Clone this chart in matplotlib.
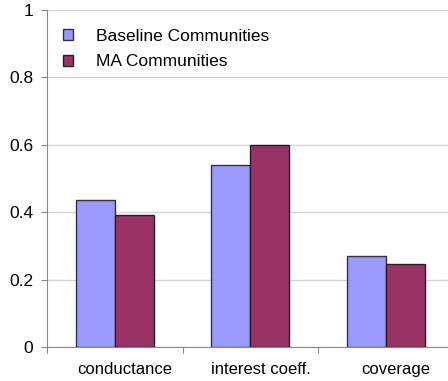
import matplotlib.pyplot as plt
import numpy as np
from matplotlib.patches import Patch

plt.rcParams['font.family'] = ['Liberation Sans', 'DejaVu Sans']

categories = ['conductance', 'interest coeff.', 'coverage']
baseline = [0.436, 0.540, 0.270]
ma = [0.392, 0.600, 0.246]
series_names = ['Baseline Communities', 'MA Communities']
y_ticks = [0, 0.2, 0.4, 0.6, 0.8, 1]
y_labels = ['0', '0.2', '0.4', '0.6', '0.8', '1']

fig = plt.figure(figsize=(4.48, 3.81), dpi=100)
ax = fig.add_axes([47 / 448, 1 - 347 / 381, 406.5 / 448, 337 / 381])

x = np.arange(len(categories)) + 0.5
w = 0.288
ax.bar(x - w / 2, baseline, w, color='#9999FF', edgecolor='#333333', linewidth=1, zorder=3)
ax.bar(x + w / 2, ma, w, color='#993366', edgecolor='#222222', linewidth=1, zorder=3)

ax.set_xlim(0, 3)
ax.set_ylim(0, 1)
ax.set_yticks(y_ticks)
ax.set_yticklabels(y_labels, fontsize=12.5)
ax.yaxis.grid(True, color='#d4d4d4', linewidth=1, zorder=0)

# category boundaries as ticks, labels slightly to the right of centres
ax.set_xticks([0, 1, 2, 3])
ax.set_xticklabels([])
for xi, name in zip(x, categories):
    ax.text(xi + 0.075, -0.068, name, ha='center', va='center', fontsize=12,
            transform=ax.transData)

for s in ['top', 'right']:
    ax.spines[s].set_visible(False)
for s in ['left', 'bottom']:
    ax.spines[s].set_color('#888888')
ax.tick_params(axis='both', length=4, color='#888888', pad=6)

handles = [Patch(facecolor='#9999FF', edgecolor='#333333'),
           Patch(facecolor='#993366', edgecolor='#222222')]
ax.legend(handles, series_names, loc='upper left', frameon=False, fontsize=12.5,
          handlelength=0.6, handleheight=0.6, handletextpad=1.3, labelspacing=0.6,
          bbox_to_anchor=(0.0, 0.99))

fig.savefig('out.png', dpi=100)
